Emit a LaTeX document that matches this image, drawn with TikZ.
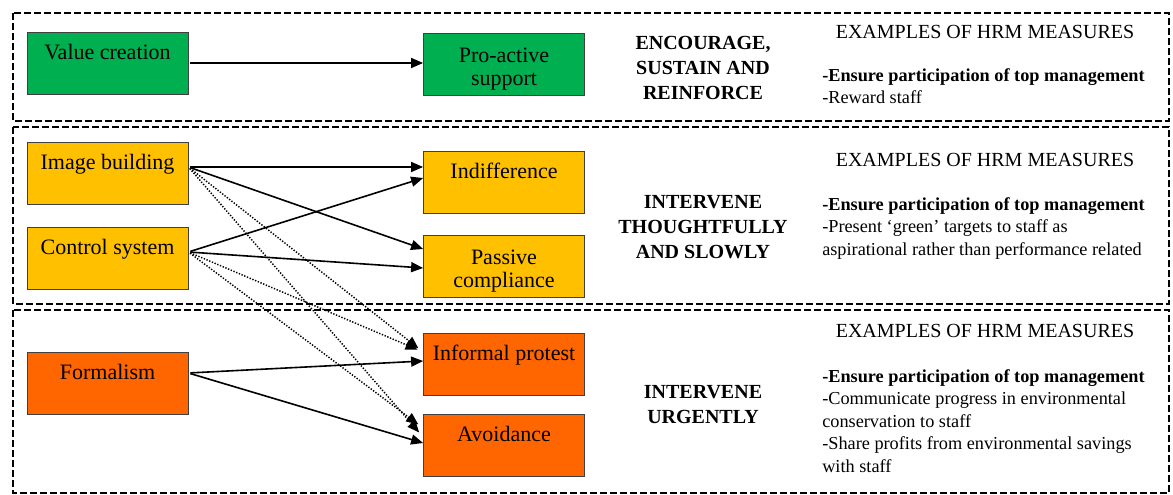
\documentclass[tikz,border=0pt]{standalone}
\usepackage{fontspec}
\setmainfont{Liberation Serif}
\usetikzlibrary{arrows.meta,calc}

\begin{document}
\begin{tikzpicture}[x=0.75pt,y=0.75pt,yscale=-1,xscale=1,
    factor/.style={draw={rgb, 255:red, 64; green, 64; blue, 64 }, line width=0.6pt, minimum width=120.75pt, minimum height=46.5pt, inner sep=0pt, font=\fontsize{16.5}{17.5}\selectfont, align=center},
    oneline/.style={text height=12pt, text depth=17.5pt},
    zone/.style={line width=1.1pt, dash pattern=on 5pt off 2.5pt},
    flow/.style={line width=1.2pt, shorten <=1.5pt, -{Triangle[length=9pt,width=7.5pt]}},
    side/.style={line width=1.1pt, dash pattern=on 1pt off 1.2pt, shorten <=1.5pt, shorten >=4.5pt, -{Triangle[length=9pt,width=7.5pt]}},
    action/.style={font=\fontsize{15}{18.75}\selectfont\bfseries, align=center, inner sep=0.75pt},
    heading/.style={font=\fontsize{15}{17}\selectfont, inner sep=0.75pt},
    measure/.style={anchor=north west, font=\fontsize{13.7}{16.9}\selectfont, align=left, inner sep=0pt}
]
    \useasboundingbox (0,0) rectangle (1173,495);

    %Shape: Dashed zones
    \draw [zone] (13,13) rectangle (1169,121);
    \draw [zone] (13,127) rectangle (1169,304);
    \draw [zone] (13,310) rectangle (1169,493);

    %Shape: Rectangle - left column
    \draw (107.5,63) node (value) [factor, oneline, fill={rgb, 255:red, 0; green, 176; blue, 80 }] {Value creation};
    \draw (107.5,173) node (image) [factor, oneline, fill={rgb, 255:red, 255; green, 192; blue, 0 }] {Image building};
    \draw (107.5,258) node (control) [factor, oneline, fill={rgb, 255:red, 255; green, 192; blue, 0 }] {Control system};
    \draw (107.5,383) node (formal) [factor, oneline, fill={rgb, 255:red, 255; green, 102; blue, 0 }] {Formalism};

    %Shape: Rectangle - right column
    \draw (504,64) node (proactive) [factor, fill={rgb, 255:red, 0; green, 176; blue, 80 }] {\rule{0pt}{19pt}Pro-active\\support};
    \draw (504,182) node (indiff) [factor, oneline, fill={rgb, 255:red, 255; green, 192; blue, 0 }] {Indifference};
    \draw (504,266) node (passive) [factor, fill={rgb, 255:red, 255; green, 192; blue, 0 }] {\rule{0pt}{19pt}Passive\\compliance};
    \draw (504,364.5) node (informal) [factor, oneline, fill={rgb, 255:red, 255; green, 102; blue, 0 }] {Informal protest};
    \draw (504,445.5) node (avoid) [factor, oneline, fill={rgb, 255:red, 255; green, 102; blue, 0 }] {Avoidance};

    %Straight Lines
    \draw [flow] (value.east) -- (value.east -| proactive.west);
    \draw [flow] ($(image.east)+(0,-6)$) -- ($(indiff.west)+(0,-15)$);
    \draw [flow] ($(image.east)+(0,-6)$) -- ($(passive.west)+(0,-17)$);
    \draw [flow] ($(control.east)+(0,-6)$) -- ($(indiff.west)+(0,-4)$);
    \draw [flow] ($(control.east)+(0,-6)$) -- ($(passive.west)+(0,2)$);
    \draw [flow] ($(formal.east)+(0,-10)$) -- ($(informal.west)+(0,-3.5)$);
    \draw [flow] ($(formal.east)+(0,-10)$) -- ($(avoid.west)+(0,-2.5)$);
    %Dotted Lines
    \draw [side] ($(image.east)+(0,-6)$) -- ($(informal.west)+(0,-12.5)$);
    \draw [side] ($(image.east)+(0,-6)$) -- ($(avoid.west)+(0,-8.5)$);
    \draw [side] ($(control.east)+(0,-6)$) -- ($(informal.west)+(0,-12.5)$);
    \draw [side] ($(control.east)+(0,-6)$) -- ($(avoid.west)+(0,-17.5)$);

    % Text Node
    \draw (703,68) node (act1) [action] {ENCOURAGE,\\SUSTAIN AND\\REINFORCE};
    % Text Node
    \draw (703,227) node (act2) [action] {INTERVENE\\THOUGHTFULLY\\AND SLOWLY};
    % Text Node
    \draw (703,405) node (act3) [action] {INTERVENE\\URGENTLY};

    % Text Node
    \draw (985,32) node (head1) [heading] {EXAMPLES OF HRM MEASURES};
    \draw (822,68) node (meas1) [measure] {\textbf{-Ensure participation of top management}\\-Reward staff};
    % Text Node
    \draw (985,160) node (head2) [heading] {EXAMPLES OF HRM MEASURES};
    \draw (822,197) node (meas2) [measure] {\textbf{-Ensure participation of top management}\\-Present `green' targets to staff as\\aspirational rather than performance related};
    % Text Node
    \draw (985,331) node (head3) [heading] {EXAMPLES OF HRM MEASURES};
    \draw (822,369) node (meas3) [measure] {\textbf{-Ensure participation of top management}\\-Communicate progress in environmental\\conservation to staff\\-Share profits from environmental savings\\with staff};

\end{tikzpicture}
\end{document}
